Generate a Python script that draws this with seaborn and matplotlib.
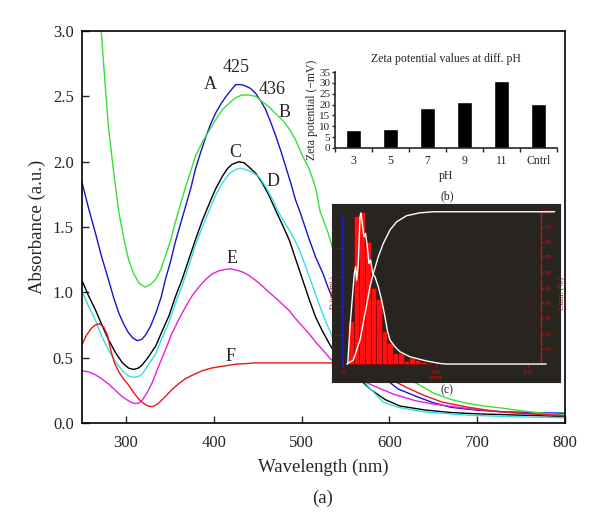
import numpy as np
import pandas as pd
import matplotlib
matplotlib.use('Agg')
import matplotlib.pyplot as plt
import seaborn as sns

# =============================================================================
# Data: UV-vis spectra (a)
# =============================================================================

wl_a = [250, 258, 265, 272, 280, 286, 292, 298, 303, 308, 313, 318, 322, 328, 334, 340, 345, 351,
        356, 362, 368, 374, 379, 385, 391, 396, 402, 408, 414, 420, 425, 431, 436, 442, 448, 454,
        459, 465, 471, 477, 482, 488, 493, 499, 509, 516, 524, 530, 537, 550, 565, 580, 593, 610,
        632, 650, 670, 700, 727, 760, 800]
ab_a = [1.84, 1.63, 1.46, 1.28, 1.10, 0.96, 0.84, 0.75, 0.69, 0.65, 0.63, 0.64, 0.67, 0.74, 0.84,
        0.96, 1.10, 1.24, 1.38, 1.52, 1.66, 1.80, 1.94, 2.07, 2.19, 2.28, 2.37, 2.44, 2.50, 2.55,
        2.59, 2.59, 2.58, 2.56, 2.52, 2.46, 2.40, 2.30, 2.19, 2.07, 1.96, 1.83, 1.71, 1.60, 1.40,
        1.27, 1.15, 1.04, 0.93, 0.76, 0.60, 0.46, 0.35, 0.26, 0.20, 0.155, 0.12, 0.098, 0.087,
        0.080, 0.075]

wl_b = [262, 268, 272, 276, 280, 286, 292, 298, 303, 309, 315, 322, 328, 334, 340, 345, 351, 356,
        362, 368, 374, 379, 387, 395, 402, 410, 418, 425, 432, 440, 448, 455, 463, 470, 478, 486,
        493, 500, 509, 516, 521, 530, 537, 550, 565, 580, 600, 624, 650, 670, 689, 710, 727, 760, 800]
ab_b = [3.90, 3.35, 2.99, 2.62, 2.27, 1.92, 1.61, 1.40, 1.25, 1.14, 1.07, 1.04, 1.06, 1.10, 1.18,
        1.28, 1.40, 1.53, 1.67, 1.81, 1.93, 2.04, 2.15, 2.24, 2.32, 2.40, 2.45, 2.49, 2.51, 2.51,
        2.50, 2.46, 2.42, 2.37, 2.32, 2.25, 2.17, 2.06, 1.94, 1.80, 1.62, 1.46, 1.30, 1.00, 0.75,
        0.58, 0.44, 0.33, 0.23, 0.18, 0.15, 0.128, 0.115, 0.085, 0.06]

wl_c = [250, 257, 265, 272, 280, 288, 296, 303, 309, 314, 318, 325, 334, 341, 349, 356, 364, 372,
        379, 387, 395, 402, 410, 416, 421, 429, 435, 440, 448, 455, 463, 471, 478, 486, 493, 501,
        509, 516, 524, 533, 540, 550, 565, 580, 595, 612, 640, 670, 700, 750, 800]
ab_c = [1.09, 0.98, 0.87, 0.76, 0.64, 0.54, 0.46, 0.42, 0.41, 0.42, 0.44, 0.50, 0.59, 0.70, 0.82,
        0.96, 1.10, 1.26, 1.40, 1.55, 1.68, 1.79, 1.89, 1.95, 1.98, 2.00, 1.99, 1.96, 1.91, 1.84,
        1.74, 1.62, 1.52, 1.40, 1.26, 1.10, 0.94, 0.81, 0.70, 0.59, 0.52, 0.44, 0.34, 0.25, 0.18,
        0.13, 0.10, 0.08, 0.07, 0.06, 0.05]

wl_d = [250, 257, 265, 272, 280, 288, 296, 303, 309, 314, 318, 325, 334, 341, 349, 356, 364, 372,
        379, 387, 395, 402, 410, 418, 425, 431, 436, 444, 452, 459, 467, 474, 482, 490, 498, 505,
        512, 521, 528, 535, 545, 555, 565, 580, 593, 610, 640, 689, 740, 800]
ab_d = [1.01, 0.90, 0.79, 0.67, 0.56, 0.47, 0.40, 0.36, 0.35, 0.355, 0.37, 0.44, 0.53, 0.65, 0.77,
        0.91, 1.05, 1.21, 1.36, 1.50, 1.63, 1.74, 1.84, 1.91, 1.94, 1.95, 1.94, 1.92, 1.88, 1.81,
        1.71, 1.61, 1.52, 1.43, 1.32, 1.19, 1.06, 0.89, 0.77, 0.66, 0.54, 0.44, 0.36, 0.25, 0.16,
        0.12, 0.085, 0.06, 0.048, 0.04]

wl_e = [250, 258, 265, 272, 280, 288, 296, 303, 309, 314, 318, 324, 330, 337, 345, 352, 360, 368,
        375, 383, 391, 398, 406, 413, 419, 426, 433, 440, 448, 455, 463, 470, 478, 486, 493, 501,
        509, 516, 524, 533, 540, 550, 565, 580, 605, 630, 650, 690, 727, 760, 800]
ab_e = [0.40, 0.39, 0.37, 0.34, 0.30, 0.25, 0.20, 0.17, 0.15, 0.15, 0.17, 0.23, 0.31, 0.43, 0.56,
        0.68, 0.79, 0.89, 0.97, 1.04, 1.10, 1.14, 1.165, 1.175, 1.18, 1.17, 1.155, 1.13, 1.09,
        1.05, 1.00, 0.96, 0.91, 0.86, 0.80, 0.74, 0.68, 0.62, 0.56, 0.49, 0.45, 0.40, 0.34, 0.29,
        0.22, 0.17, 0.145, 0.11, 0.085, 0.07, 0.055]

wl_f = [250, 255, 260, 265, 270, 275, 279, 283, 287, 292, 297, 303, 309, 315, 320, 325, 330, 335,
        340, 346, 353, 360, 368, 377, 387, 397, 406, 416, 425, 437, 448, 460, 475, 490, 510, 537,
        560, 580, 600, 620, 640, 660, 690, 720, 760, 800]
ab_f = [0.60, 0.67, 0.72, 0.75, 0.76, 0.73, 0.67, 0.55, 0.46, 0.39, 0.34, 0.29, 0.23, 0.18, 0.15,
        0.13, 0.125, 0.14, 0.17, 0.21, 0.26, 0.30, 0.34, 0.37, 0.40, 0.42, 0.43, 0.44, 0.45,
        0.455, 0.46, 0.46, 0.46, 0.46, 0.46, 0.46, 0.44, 0.40, 0.34, 0.27, 0.21, 0.16, 0.12, 0.09,
        0.07, 0.055]

# =============================================================================
# Data: zeta potential (b)
# =============================================================================

ph_labels = ['3', '5', '7', '9', '11', 'Cntrl']
zeta = [8.4, 8.7, 18.2, 21.2, 31.0, 20.3]

# =============================================================================
# Data: size distribution (c)
# =============================================================================

size_edges = [5.4, 11.4, 17.4, 23.4, 29.4, 35.4, 41.4, 47.4, 53.4, 59.4, 65.4, 71.4, 77.4, 83.4,
              89.4, 95.4]
size_freq = [28, 97, 100, 80, 50, 43, 22, 14, 7.5, 7.5, 2, 4, 2.5, 1.5, 0.5]

dist_nm = [4.7, 7.2, 10.1, 11.9, 13.3, 14.4, 16.2, 18.0, 19.1, 20.9, 22.3, 24.1, 25.9, 27.7, 29.5,
           31.7, 34.2, 37.8, 41.4, 45.0, 47.5, 50.4, 55.8, 61.2, 71.9, 89.9, 104.3, 111.5, 219.4]
dist_pct = [0, 24.5, 46.4, 59.5, 63.9, 55.1, 66.1, 96.7, 99.3, 90.2, 83.6, 85.8, 77.0, 66.1, 68.3,
            59.5, 57.3, 50.8, 42.0, 31.1, 22.3, 15.8, 11.4, 8.1, 4.8, 2.0, 0.4, 0, 0]

cum_nm = [3.6, 10.8, 18.0, 23.4, 28.8, 32.4, 37.8, 43.2, 50.4, 57.6, 68.3, 82.7, 97.1, 228.4]
cum_pct = [0, 2.6, 15.8, 33.0, 50.8, 59.5, 70.5, 79.2, 88.0, 93.4, 97.4, 99.3, 100, 100]

# =============================================================================
# Style
# =============================================================================

sns.set_style('ticks')
plt.rcParams['font.family'] = ['Liberation Serif', 'DejaVu Serif']

fig = plt.figure(figsize=(6, 5.31), dpi=100)

# =============================================================================
# Main panel (a)
# =============================================================================

ax = fig.add_axes([0.1367, 0.2034, 0.805, 0.7382])

curves = [
    (wl_a, ab_a, '#1515c8'),
    (wl_b, ab_b, '#38e038'),
    (wl_c, ab_c, '#000000'),
    (wl_d, ab_d, '#30e0e6'),
    (wl_e, ab_e, '#e81ee0'),
    (wl_f, ab_f, '#e81818'),
]
for wl, ab, col in curves:
    sns.lineplot(x=wl, y=ab, color=col, lw=1.0, ax=ax, sort=False)

ax.set_xlim(250, 800)
ax.set_ylim(0, 3.0)
ax.set_xticks([300, 400, 500, 600, 700, 800])
ax.set_yticks([0, 0.5, 1.0, 1.5, 2.0, 2.5, 3.0])
ax.set_yticklabels(['0.0', '0.5', '1.0', '1.5', '2.0', '2.5', '3.0'])
ax.tick_params(direction='in', length=5, width=1, labelsize=12, top=False, right=False)
ax.tick_params(axis='x', pad=9)
ax.tick_params(axis='y', pad=6)
for s in ax.spines.values():
    s.set_linewidth(1.2)
    s.set_color('black')
ax.set_xlabel('Wavelength (nm)', fontsize=13.5, labelpad=5)
ax.set_ylabel('Absorbance (a.u.)', fontsize=13.5, labelpad=5)

for label, x, y in [('A', 396, 2.59), ('425', 425, 2.72), ('436', 467, 2.55), ('B', 481, 2.38),
                    ('C', 424, 2.07), ('D', 467, 1.85), ('E', 421, 1.26), ('F', 419, 0.51)]:
    ax.text(x, y, label, fontsize=13, ha='center', va='center')

fig.text(323 / 600, 1 - 498 / 531, '(a)', fontsize=13.5, ha='center', va='center')

# =============================================================================
# Inset (b): zeta potential bars
# =============================================================================

axb = fig.add_axes([0.5583, 0.7213, 0.37, 0.1431])
axb.patch.set_alpha(0)
sns.barplot(x=ph_labels, y=zeta, color='black', saturation=1, width=0.43, ax=axb)
axb.set_xlim(-0.5, 5.5)
axb.set_ylim(0, 35)
axb.set_yticks(range(0, 36, 5))
axb.set_xticks(np.arange(-0.5, 6, 1), minor=True)
axb.tick_params(axis='x', which='major', length=0, labelsize=8.5, pad=5)
axb.tick_params(axis='x', which='minor', length=3, width=1, direction='out')
axb.tick_params(axis='y', length=2.5, width=1, direction='out', labelsize=8, pad=1)
sns.despine(ax=axb)
axb.spines['left'].set_linewidth(1.2)
axb.spines['bottom'].set_linewidth(1.2)
axb.set_title('Zeta potential values at diff. pH', fontsize=8.5, pad=7)
axb.set_xlabel('pH', fontsize=8.5, labelpad=2)
axb.set_ylabel('Zeta potential (−mV)', fontsize=8.5, labelpad=1)

fig.text(447 / 600, 1 - 196 / 531, '(b)', fontsize=8.5, ha='center', va='center')

# =============================================================================
# Inset (c): particle size distribution
# =============================================================================

xc0, xc1 = -12.3, 234.3
yc0, yc1 = -11.8, 105.1
red = '#c01515'

axc = fig.add_axes([0.5533, 0.2806, 0.38, 0.3352])
axc.set_facecolor('#28241f')
centers = [(size_edges[i] + size_edges[i + 1]) / 2 for i in range(len(size_freq))]
sns.histplot(x=centers, weights=size_freq, bins=size_edges, color='#ff1010', alpha=1,
             edgecolor='#7a0000', linewidth=0.4, ax=axc)
sns.lineplot(x=dist_nm, y=dist_pct, color='white', lw=1.0, ax=axc, sort=False)
sns.lineplot(x=cum_nm, y=cum_pct, color='white', lw=1.0, ax=axc, sort=False)
axc.set_xlim(xc0, xc1)
axc.set_ylim(yc0, yc1)
axc.set_xticks([])
axc.set_yticks([])
axc.set_xlabel('')
axc.set_ylabel('')
for s in axc.spines.values():
    s.set_color('#28241f')

# left axis (blue line, red ticks)
sl = axc.secondary_yaxis((0 - xc0) / (xc1 - xc0))
sl.spines['left'].set_color('#1a1ad0')
sl.spines['left'].set_linewidth(1.3)
sl.spines['left'].set_bounds(0, 97)
sl.set_yticks([19, 38, 57, 76])
sl.set_yticklabels([])
sl.tick_params(colors=red, length=2.5, width=0.8, direction='out')
sl.set_ylabel('Fr (cnt/mL)', color=red, fontsize=5, labelpad=0)

# right axis (red, cumulative %)
sr = axc.secondary_yaxis((213.4 - xc0) / (xc1 - xc0))
sr.spines['right'].set_color(red)
sr.spines['right'].set_linewidth(1.0)
sr.spines['right'].set_bounds(0, 100)
sr.set_yticks(range(10, 101, 10))
sr.tick_params(colors=red, labelcolor=red, length=2, width=0.6, labelsize=5, pad=1)
sr.set_ylabel('Cum. (%)', color=red, fontsize=6, labelpad=1)

# bottom axis (size in nm)
sb = axc.secondary_xaxis((0 - yc0) / (yc1 - yc0))
sb.spines['bottom'].set_visible(False)
sb.set_xticks([0, 100, 200])
sb.set_xticklabels(['0', '100\n(nm)', '200'])
sb.tick_params(colors=red, labelcolor=red, length=2, width=0.6, labelsize=5, pad=2)
for t in sb.get_xticklabels():
    t.set_linespacing(0.9)

fig.text(447 / 600, 1 - 390 / 531, '(c)', fontsize=8.5, ha='center', va='center')

plt.savefig('out.png', dpi=100)
